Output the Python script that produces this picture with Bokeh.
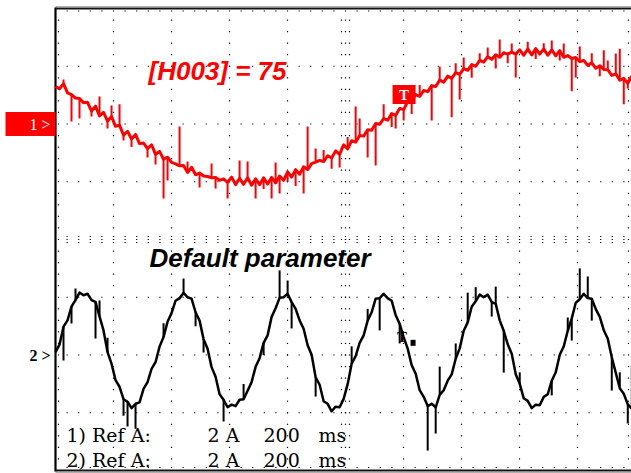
import numpy as np
from bokeh.plotting import figure
from bokeh.models import Range1d
from bokeh.core.properties import value
from bokeh.embed import file_html
from bokeh.resources import INLINE

# ---------------- scope settings ----------------
TIME_PER_DIV_MS = 200      # 200 ms / div
AMP_PER_DIV = 2            # 2 A / div
CH1_OFFSET_DIV = 2         # channel 1 reference level (divisions)
CH2_OFFSET_DIV = -2        # channel 2 reference level (divisions)
SAMPLE_MS = 13.8           # interval between stored samples
N_XDIV, N_YDIV = 10, 8

# ---------------- data (amps) ----------------
ch1_amps = [
    1.30, 1.22, 1.40, 1.08, 1.02, 0.90, 0.88, 0.74, 0.75, 0.45,
    0.62, 0.28, 0.40, 0.10, 0.26, -0.08, -0.04, -0.39, -0.25, -0.52,
    -0.36, -0.68, -0.66, -0.85, -0.72, -1.05, -0.95, -1.22, -1.15, -1.33,
    -1.38, -1.45, -1.44, -1.68, -1.50, -1.76, -1.70, -1.80, -1.82, -1.86,
    -1.85, -1.95, -1.90, -2.02, -1.84, -2.10, -1.88, -2.09, -1.86, -2.12,
    -1.90, -2.10, -1.86, -2.08, -1.85, -2.04, -1.80, -1.95, -1.66, -1.84,
    -1.58, -1.74, -1.48, -1.58, -1.37, -1.32, -1.26, -1.30, -1.10, -1.18,
    -0.93, -1.05, -0.72, -0.86, -0.58, -0.63, -0.40, -0.42, -0.20, -0.22,
    0.02, -0.01, 0.19, 0.13, 0.36, 0.30, 0.54, 0.50, 0.78, 0.80,
    1.02, 0.96, 1.16, 1.12, 1.33, 1.30, 1.52, 1.45, 1.66, 1.58,
    1.78, 1.72, 1.92, 1.86, 2.06, 2.00, 2.20, 2.14, 2.33, 2.24,
    2.40, 2.31, 2.47, 2.42, 2.49, 2.42, 2.57, 2.38, 2.60, 2.39,
    2.61, 2.42, 2.60, 2.38, 2.57, 2.36, 2.54, 2.31, 2.37, 2.27,
    2.30, 2.16, 2.20, 2.03, 2.12, 1.93, 2.02, 1.89, 1.88, 1.68,
    1.74, 1.52, 1.58, 1.41, 1.66,
]
# narrow glitches on channel 1: (sample index, peak value in A)
ch1_glitch_idx = [2, 4, 6, 9, 11, 13, 14, 16, 17, 19, 23, 25, 27, 28, 31, 33, 36,
                  39, 40, 43, 46, 48, 50, 52, 54, 55, 56, 58, 60, 62, 63, 65, 67,
                  69, 71, 73, 75, 76, 78, 80, 82, 84, 85, 87, 89, 91, 94, 96, 99,
                  100, 101, 102, 104, 106, 108, 110, 111, 113, 114, 115, 118, 120,
                  122, 124, 126, 127, 129, 130, 131, 134, 136, 137, 138, 140, 141,
                  142, 143]
ch1_glitch_amps = [1.54, 0.09, 0.19, 0.26, 0.95, -0.16, 0.64, 0.68, -0.57, -0.80,
                   -1.16, -1.40, -2.58, -1.96, -0.09, -1.30, -2.20, -1.37, -2.23,
                   -2.58, -1.26, -1.30, -2.58, -2.25, -2.58, -1.33, -2.41, -2.00,
                   -2.15, -2.41, -0.09, -0.85, -0.90, -1.55, -1.51, -0.45, 0.61,
                   0.19, -1.16, -1.44, 0.68, -0.10, -0.16, 0.12, 0.35, 1.35, 0.12,
                   1.99, 0.23, 2.10, 0.85, 2.30, 1.60, 2.45, 2.65, 1.92, 2.93,
                   2.10, 2.79, 1.61, 2.85, 2.25, 2.80, 2.89, 2.20, 2.79, 1.13,
                   1.61, 2.68, 2.45, 1.65, 2.55, 2.20, 2.44, 2.61, 0.68, 1.23]

ch2_amps = [
    0.10, 0.36, 0.98, 1.20, 1.68, 1.90, 2.16, 2.07, 2.12, 1.90,
    1.84, 1.34, 0.85, 0.10, -0.30, -0.87, -1.10, -1.53, -1.62, -1.84,
    -1.69, -1.64, -1.17, -0.94, -0.48, -0.25, 0.29, 0.62, 1.15, 1.45,
    1.88, 1.97, 2.15, 2.00, 1.95, 1.48, 1.19, 0.55, 0.22, -0.42,
    -0.75, -1.36, -1.55, -1.81, -1.72, -1.77, -1.55, -1.53, -1.24, -0.94,
    -0.41, -0.11, 0.42, 0.68, 1.32, 1.62, 1.98, 2.00, 2.12, 1.83,
    1.60, 1.20, 0.91, 0.34, 0.01, -0.77, -1.03, -1.60, -1.69, -1.95,
    -1.79, -1.81, -1.52, -1.01, -0.30, -0.04, 0.42, 0.68, 1.19, 1.48,
    1.95, 1.97, 2.12, 1.97, 1.88, 1.38, 1.08, 0.62, 0.22, -0.35,
    -0.65, -1.22, -1.45, -1.77, -1.69, -1.81, -1.38, -1.22, -0.89, -0.67,
    -0.13, 0.23, 0.84, 1.13, 1.67, 1.86, 2.09, 2.00, 2.09, 1.83,
    1.77, 1.20, 0.84, 0.37, 0.04, -0.67, -1.00, -1.50, -1.59, -1.84,
    -1.72, -1.74, -1.45, -1.36, -0.89, -0.60, 0.01, 0.30, 0.84, 1.27,
    1.81, 1.93, 2.12, 1.97, 1.95, 1.59, 1.32, 0.86, 0.56, -0.08,
    -0.62, -1.15, -1.34, -1.71, -1.86,
]
ch2_glitch_idx = [2, 4, 5, 10, 11, 13, 17, 18, 20, 27, 32, 35, 37, 42, 47, 52, 56,
                  58, 59, 65, 74, 78, 81, 86, 93, 95, 96, 100, 103, 105, 109, 110,
                  112, 116, 124, 128, 129, 131, 133, 134, 139, 141, 143, 144]
ch2_glitch_amps = [-0.19, 1.09, 2.30, 0.57, 1.89, 0.60, -2.10, -2.48, -2.55, 1.10,
                   2.65, 1.00, 0.09, -2.30, -1.00, 0.00, 2.93, 2.58, 0.92, -1.44,
                   0.30, 1.60, 0.85, 0.40, -3.31, -2.72, -0.40, 0.40, 2.16, 2.35,
                   1.33, 2.37, -0.61, -0.60, -1.40, 1.30, 0.50, 3.00, 2.72, 1.19,
                   -1.23, -0.60, -2.37, -0.36]

# trigger markers (time in ms, level in A relative to channel reference)
trig_ms = 1202
trig1_amp = 1.02
trig2_amp = 0.63

header_text = "[H003] = 75"
subtitle_text = "Default parameter"
info_rows = [["1) Ref A:", "2 A", "200", "ms"],
             ["2) Ref A:", "2 A", "200", "ms"]]

# ---------------- geometry ----------------
PX_X, PX_Y = 58.0, 57.75           # pixels per division
LEFT_PX, TOP_PX = 55.0, 8.0
W, H = 631, 473

def px_to_dx(px):
    return px / PX_X

def px_to_dy(px):
    return px / PX_Y

def row_y(px_from_top):
    return N_YDIV / 2 - (px_from_top - TOP_PX) / PX_Y

p = figure(width=W, height=H, output_backend="svg", toolbar_location=None,
           x_range=Range1d(-LEFT_PX / PX_X, (W - LEFT_PX) / PX_X),
           y_range=Range1d(-N_YDIV / 2 - (H - TOP_PX - N_YDIV * PX_Y) / PX_Y,
                           N_YDIV / 2 + TOP_PX / PX_Y),
           x_axis_location=None, y_axis_location=None, min_border=0)
p.grid.visible = False
p.outline_line_color = None
p.background_fill_color = "white"
p.border_fill_color = "white"

# ---------------- dotted graticule ----------------
minor_y = np.arange(-N_YDIV / 2 + 0.2, N_YDIV / 2 - 0.1, 0.2)
minor_x = np.arange(0.2, N_XDIV - 0.1, 0.2)
dx, dy = [], []
for c in range(1, N_XDIV):
    dx += [c] * len(minor_y); dy += list(minor_y)
for r in range(-N_YDIV // 2 + 1, N_YDIV // 2):
    if r == 0:
        continue
    dx += list(minor_x); dy += [r] * len(minor_x)
for x in minor_x:
    dx += [x, x, x]; dy += [0, px_to_dy(3), -px_to_dy(3)]
for y in minor_y:
    dx += [5 - px_to_dx(4), 5 + px_to_dx(4)]; dy += [y, y]
dx += [px_to_dx(3)] * len(minor_y); dy += list(minor_y)
dx += [px_to_dx(573)] * len(minor_y); dy += list(minor_y)
dx += list(minor_x); dy += [N_YDIV / 2 - px_to_dy(2.5)] * len(minor_x)
dx += list(minor_x); dy += [-N_YDIV / 2 + px_to_dy(3)] * len(minor_x)
p.rect(dx, dy, width=1.2, height=1.2, width_units="screen", height_units="screen",
       fill_color="black", line_color=None)

# ---------------- frame borders ----------------
xr_end = (W - LEFT_PX) / PX_X
p.segment(x0=[0], y0=[-4 - px_to_dy(1)], x1=[0], y1=[4 + px_to_dy(1)],
          line_color="black", line_width=2.2)
p.segment(x0=[0, 0], y0=[4, -4], x1=[xr_end, xr_end], y1=[4, -4],
          line_color="#111111", line_width=2.2)
p.segment(x0=[0, 0], y0=[4 + px_to_dy(1.8), -4 - px_to_dy(1.8)],
          x1=[xr_end, xr_end], y1=[4 + px_to_dy(1.8), -4 - px_to_dy(1.8)],
          line_color="#9a9a9a", line_width=1)

# ---------------- traces ----------------
t_ms = np.arange(len(ch1_amps)) * SAMPLE_MS
x_div = t_ms / TIME_PER_DIV_MS
y1 = CH1_OFFSET_DIV + np.array(ch1_amps) / AMP_PER_DIV
y2 = CH2_OFFSET_DIV + np.array(ch2_amps) / AMP_PER_DIV

g1 = np.array(ch1_glitch_idx)
p.segment(x0=x_div[g1], y0=y1[g1], x1=x_div[g1],
          y1=CH1_OFFSET_DIV + np.array(ch1_glitch_amps) / AMP_PER_DIV,
          line_color="#ff0000", line_width=2)
p.line(x_div, y1, line_color="#ff0000", line_width=3, line_join="round")

g2 = np.array(ch2_glitch_idx)
p.segment(x0=x_div[g2], y0=y2[g2], x1=x_div[g2],
          y1=CH2_OFFSET_DIV + np.array(ch2_glitch_amps) / AMP_PER_DIV,
          line_color="black", line_width=2)
p.line(x_div, y2, line_color="black", line_width=2.5, line_join="round")

# ---------------- trigger markers ----------------
tx = trig_ms / TIME_PER_DIV_MS
ty1 = CH1_OFFSET_DIV + trig1_amp / AMP_PER_DIV
ty2 = CH2_OFFSET_DIV + trig2_amp / AMP_PER_DIV
p.rect([tx], [ty1], width=23, height=19, width_units="screen", height_units="screen",
       fill_color="#ff0000", line_color=None)
p.text([tx], [ty1], text=["T"], text_align="center", text_baseline="middle",
       text_color="white", text_font=value("Liberation Serif"),
       text_font_style="bold", text_font_size="15px")
p.text([tx - px_to_dx(2)], [ty2], text=["T"], text_align="center", text_baseline="middle",
       text_color="black", text_font=value("Liberation Serif"),
       text_font_style="bold", text_font_size="15px")
p.rect([tx + px_to_dx(9)], [ty2 - px_to_dy(6)], width=5, height=6,
       width_units="screen", height_units="screen", fill_color="black", line_color=None)

# ---------------- channel markers ----------------
p.rect([-px_to_dx(25)], [CH1_OFFSET_DIV], width=50, height=24,
       width_units="screen", height_units="screen", fill_color="#ff0000", line_color=None)
p.text([-px_to_dx(5)], [CH1_OFFSET_DIV], text=["1 >"], text_align="right",
       text_baseline="middle", text_color="white",
       text_font=value("Liberation Serif"), text_font_size="16px")
p.text([-px_to_dx(5)], [CH2_OFFSET_DIV], text=["2 >"], text_align="right",
       text_baseline="middle", text_color="black", text_font_style="bold",
       text_font=value("Liberation Serif"), text_font_size="16px")

# ---------------- annotations ----------------
p.text([px_to_dx(93)], [row_y(70)], text=[header_text], text_color="#ff0000",
       text_font=value("Liberation Sans"), text_font_style="bold italic",
       text_font_size="26px", text_baseline="alphabetic")
p.text([px_to_dx(94)], [row_y(257)], text=[subtitle_text], text_color="black",
       text_font=value("Liberation Sans"), text_font_style="bold italic",
       text_font_size="26px", text_baseline="alphabetic")

token_px = [11, 152, 208, 263]
row_base_px = [434, 459]
for tokens, base in zip(info_rows, row_base_px):
    p.text([px_to_dx(v) for v in token_px], [row_y(base)] * len(tokens), text=tokens,
           text_color="black", text_font=value("DejaVu Serif"), text_font_size="19px",
           text_baseline="alphabetic")

open("out.html", "w").write(file_html(p, INLINE))
